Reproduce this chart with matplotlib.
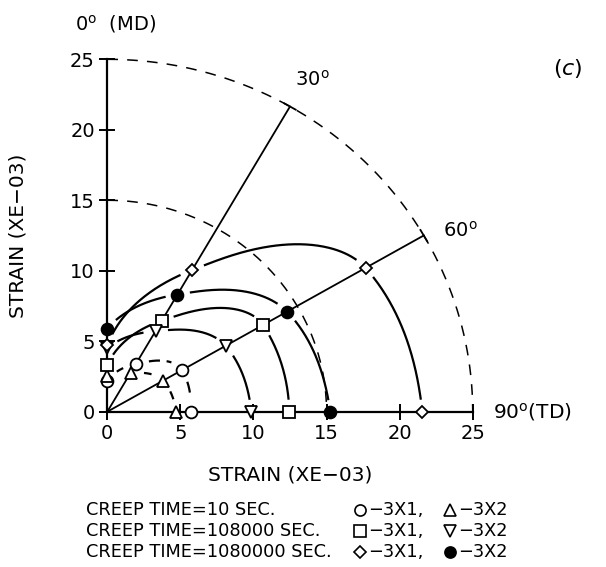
import numpy as np
import matplotlib
matplotlib.use("Agg")
from matplotlib import pyplot as plt

plt.rcParams['font.family'] = 'DejaVu Sans'

# angle measured from MD (0 deg) towards TD (90 deg)
angles = [0, 30, 60, 90]

# strain (xE-03) at each angle
c10_3x1 = [2.2, 3.9, 5.9, 5.7]
c10_3x2 = [2.5, 3.2, 4.4, 4.7]
c108k_3x1 = [3.3, 7.45, 12.3, 12.45]
c108k_3x2 = [4.5, 6.6, 9.35, 9.85]
c1080k_3x1 = [4.7, 11.6, 20.4, 21.55]
c1080k_3x2 = [5.9, 9.6, 14.2, 15.25]

series = [
    (c10_3x1, 'o', 'white', (0, (5, 3))),
    (c10_3x2, '^', 'white', (0, (5, 3))),
    (c108k_3x1, 's', 'white', '-'),
    (c108k_3x2, 'v', 'white', '-'),
    (c1080k_3x1, 'D', 'white', '-'),
    (c1080k_3x2, 'o', 'black', '-'),
]

ticks = [0, 5, 10, 15, 20, 25]
arc_radii = [15, 25]
ray_angles = [30, 60]


def pchip(x, y, xn):
    # monotone cubic hermite, keeps the curves from bulging past the points
    x = np.asarray(x, float)
    y = np.asarray(y, float)
    h = np.diff(x)
    dl = np.diff(y) / h
    m = np.zeros_like(y)
    for k in range(1, len(x) - 1):
        if dl[k - 1] * dl[k] > 0:
            w1 = 2 * h[k] + h[k - 1]
            w2 = h[k] + 2 * h[k - 1]
            m[k] = (w1 + w2) / (w1 / dl[k - 1] + w2 / dl[k])
    m[0] = dl[0]
    m[-1] = dl[-1]
    i = np.clip(np.searchsorted(x, xn) - 1, 0, len(x) - 2)
    s = (xn - x[i]) / h[i]
    h00 = 2 * s**3 - 3 * s**2 + 1
    h10 = s**3 - 2 * s**2 + s
    h01 = -2 * s**3 + 3 * s**2
    h11 = s**3 - s**2
    return h00 * y[i] + h10 * h[i] * m[i] + h01 * y[i + 1] + h11 * h[i] * m[i + 1]


W, H = 606, 567
fig = plt.figure(figsize=(W / 100, H / 100), dpi=100)
ax = fig.add_axes([107.3 / W, 1 - 411.7 / H, 365.4 / W, 352.4 / H])

ax.set_xlim(0, 25)
ax.set_ylim(0, 25)
for s in ['top', 'right']:
    ax.spines[s].set_visible(False)
for s in ['left', 'bottom']:
    ax.spines[s].set_linewidth(1.6)
ax.set_xticks(ticks)
ax.set_yticks(ticks)
ax.tick_params(direction='inout', length=12, width=1.4, labelsize=14, pad=3)

# dashed reference arcs
t = np.linspace(0, np.pi / 2, 200)
for r in arc_radii:
    ax.plot(r * np.sin(t), r * np.cos(t), color='black', lw=1.1,
            dashes=(7, 6), clip_on=False)

# radial lines with end bars
for a in ray_angles:
    th = np.radians(a)
    ex, ey = 25 * np.sin(th), 25 * np.cos(th)
    ax.plot([0, ex], [0, ey], color='black', lw=1.3, clip_on=False)
    px, py = np.cos(th), -np.sin(th)
    ax.plot([ex - 0.45 * px, ex + 0.45 * px], [ey - 0.45 * py, ey + 0.45 * py],
            color='black', lw=1.3, clip_on=False)

# smooth strain curves through the four measured directions
th_pts = np.radians(angles)
tt = np.linspace(0, np.pi / 2, 400)
for vals, mk, fc, ls in series:
    rr = pchip(th_pts, vals, tt)
    cx, cy = rr * np.sin(tt), rr * np.cos(tt)
    mx = np.array(vals) * np.sin(th_pts)
    my = np.array(vals) * np.cos(th_pts)
    d = np.min(np.hypot(cx[:, None] - mx[None, :], cy[:, None] - my[None, :]), axis=1)
    cx = np.where(d < 0.9, np.nan, cx)
    ax.plot(cx, cy, color='black', lw=1.6, linestyle=ls, clip_on=False)
    ms = 8.5 if mk != 'D' else 6.5
    ax.plot(mx, my, linestyle='none', marker=mk, ms=ms, mfc=fc, mec='black',
            mew=1.3, clip_on=False, zorder=5)

ax.set_xlabel('STRAIN (XE\u221203)', fontsize=14.5)
ax.set_ylabel('STRAIN (XE\u221203)', fontsize=14.5)
ax.xaxis.set_label_coords(0.5, -0.152)
ax.yaxis.set_label_coords(-0.218, 0.5)


def ftext(x, y, s, **kw):
    fig.text(x / W, 1 - y / H, s, va='center', **kw)


ftext(75, 24, '0$^{\\mathsf{o}}$  (MD)', fontsize=14)
ftext(295, 80, '30$^{\\mathsf{o}}$', fontsize=14)
ftext(443, 231, '60$^{\\mathsf{o}}$', fontsize=14)
ftext(493, 412, '90$^{\\mathsf{o}}$(TD)', fontsize=14.5)
ftext(553, 68, '($c$)', fontsize=16)

# legend block
rows = [
    ('CREEP TIME=10 SEC.', 'o', 'white', '^', 'white'),
    ('CREEP TIME=108000 SEC.', 's', 'white', 'v', 'white'),
    ('CREEP TIME=1080000 SEC.', 'D', 'white', 'o', 'black'),
]
for i, (lab, m1, f1, m2, f2) in enumerate(rows):
    y = 510 + 21 * i
    ftext(86, y, lab, fontsize=12.8)
    for xm, m, f, txt in [(360, m1, f1, '\u22123X1,'), (450, m2, f2, '\u22123X2')]:
        ax.plot([xm / W], [1 - y / H], marker=m, ms=8 if m != 'D' else 6,
                mfc=f, mec='black', mew=1.2, transform=fig.transFigure,
                clip_on=False)
        ftext(xm + 8, y, txt, fontsize=12.8)

fig.savefig('out.png', dpi=100)
